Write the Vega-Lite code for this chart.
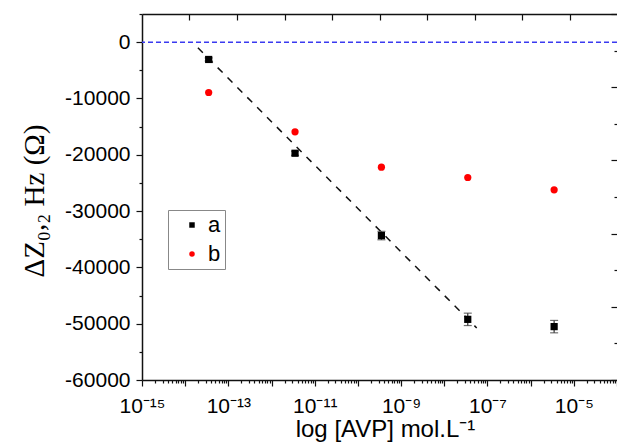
{
  "$schema": "https://vega.github.io/schema/vega-lite/v6.json",
  "width": 475,
  "height": 366,
  "autosize": {"type": "none"},
  "padding": {"left": 142, "top": 14, "right": 0, "bottom": 63},
  "background": "white",
  "config": {
    "view": {"stroke": null},
    "font": "Liberation Sans",
    "axis": {"grid": false, "domainColor": "#111", "domainWidth": 1.5, "tickColor": "#111", "tickWidth": 1.2, "labelColor": "#000", "titleColor": "#000", "labelFlush": false, "labelOverlap": false, "labelBound": false}
  },
  "datasets": {
    "pts": [
      {"series": "a", "x": 3.5e-14, "y": -3075, "lo": -3350, "hi": -2800},
      {"series": "a", "x": 3.5e-12, "y": -19730, "lo": -20100, "hi": -19360},
      {"series": "a", "x": 3.5e-10, "y": -34350, "lo": -35100, "hi": -33600},
      {"series": "a", "x": 3.5e-8, "y": -49230, "lo": -50330, "hi": -48130},
      {"series": "a", "x": 3.5e-6, "y": -50520, "lo": -51620, "hi": -49420},
      {"series": "b", "x": 3.5e-14, "y": -8940, "lo": null, "hi": null},
      {"series": "b", "x": 3.5e-12, "y": -15920, "lo": null, "hi": null},
      {"series": "b", "x": 3.5e-10, "y": -22210, "lo": null, "hi": null},
      {"series": "b", "x": 3.5e-8, "y": -24040, "lo": null, "hi": null},
      {"series": "b", "x": 3.5e-6, "y": -26230, "lo": null, "hi": null}
    ],
    "fit": [
      {"x": 1.97e-14, "y": -995},
      {"x": 5.64e-8, "y": -50755}
    ],
    "ref": [{"y": 0}]
  },
  "layer": [
    {
      "data": {"name": "ref"},
      "mark": {"type": "rule", "color": "#3a3af0", "strokeDash": [5, 3], "strokeWidth": 1.5},
      "encoding": {
        "y": {"field": "y", "type": "quantitative", "scale": {"domain": [-60000, 5000], "nice": false, "zero": false}, "axis": null}
      }
    },
    {
      "data": {"name": "fit"},
      "mark": {"type": "line", "color": "#111", "strokeDash": [7, 7], "strokeWidth": 1.5},
      "encoding": {
        "x": {"field": "x", "type": "quantitative", "scale": {"type": "log", "domain": [1e-15, 1e-4], "nice": false},
          "axis": {"orient": "top", "values": [1.2589e-14, 1.5849e-13, 1.9953e-12, 2.5119e-11, 3.1623e-10, 3.9811e-9, 5.0119e-8, 6.3096e-7, 7.9433e-6], "tickSize": -6, "labels": false, "title": null, "domain": true}},
        "y": {"field": "y", "type": "quantitative", "scale": {"domain": [-60000, 5000], "nice": false, "zero": false},
          "axis": {"orient": "right", "values": [5000, -1500, -8000, -14500, -21000, -27500, -34000, -40500, -47000, -53500, -60000], "tickSize": {"condition": {"test": "indexof([5000,-8000,-21000,-34000,-47000,-60000], datum.value) >= 0", "value": -6}, "value": -3}, "labels": false, "title": null, "domain": false}}
      }
    },
    {
      "data": {"name": "pts"},
      "transform": [{"filter": "datum.lo != null"}],
      "mark": {"type": "rule", "color": "#333", "strokeWidth": 1.2},
      "encoding": {
        "x": {"field": "x", "type": "quantitative", "scale": {"type": "log", "domain": [1e-15, 1e-4], "nice": false}, "axis": null},
        "y": {"field": "lo", "type": "quantitative", "scale": {"domain": [-60000, 5000], "nice": false, "zero": false}, "axis": null},
        "y2": {"field": "hi"}
      }
    },
    {
      "data": {"name": "pts"},
      "transform": [{"filter": "datum.lo != null"}],
      "mark": {"type": "tick", "orient": "horizontal", "color": "#333", "size": 8, "thickness": 1.2},
      "encoding": {
        "x": {"field": "x", "type": "quantitative", "scale": {"type": "log", "domain": [1e-15, 1e-4], "nice": false}, "axis": null},
        "y": {"field": "lo", "type": "quantitative", "scale": {"domain": [-60000, 5000], "nice": false, "zero": false}, "axis": null}
      }
    },
    {
      "data": {"name": "pts"},
      "transform": [{"filter": "datum.hi != null"}],
      "mark": {"type": "tick", "orient": "horizontal", "color": "#333", "size": 8, "thickness": 1.2},
      "encoding": {
        "x": {"field": "x", "type": "quantitative", "scale": {"type": "log", "domain": [1e-15, 1e-4], "nice": false}, "axis": null},
        "y": {"field": "hi", "type": "quantitative", "scale": {"domain": [-60000, 5000], "nice": false, "zero": false}, "axis": null}
      }
    },
    {
      "data": {"name": "pts"},
      "mark": {"type": "point", "filled": true, "opacity": 1, "size": 52},
      "encoding": {
        "x": {"field": "x", "type": "quantitative", "scale": {"type": "log", "domain": [1e-15, 1e-4], "nice": false},
          "axis": {
            "orient": "bottom",
            "values": [1e-15,2e-15,3e-15,4e-15,5e-15,6e-15,7e-15,8e-15,9e-15,1e-14,2e-14,3e-14,4e-14,5e-14,6e-14,7e-14,8e-14,9e-14,1e-13,2e-13,3e-13,4e-13,5e-13,6e-13,7e-13,8e-13,9e-13,1e-12,2e-12,3e-12,4e-12,5e-12,6e-12,7e-12,8e-12,9e-12,1e-11,2e-11,3e-11,4e-11,5e-11,6e-11,7e-11,8e-11,9e-11,1e-10,2e-10,3e-10,4e-10,5e-10,6e-10,7e-10,8e-10,9e-10,1e-9,2e-9,3e-9,4e-9,5e-9,6e-9,7e-9,8e-9,9e-9,1e-8,2e-8,3e-8,4e-8,5e-8,6e-8,7e-8,8e-8,9e-8,1e-7,2e-7,3e-7,4e-7,5e-7,6e-7,7e-7,8e-7,9e-7,1e-6,2e-6,3e-6,4e-6,5e-6,6e-6,7e-6,8e-6,9e-6,1e-5,2e-5,3e-5,4e-5,5e-5,6e-5,7e-5,8e-5,9e-5,1e-4],
            "tickSize": {"condition": {"test": "indexof([1e-15,1e-14,1e-13,1e-12,1e-11,1e-10,1e-9,1e-8,1e-7,1e-6,1e-5,1e-4], datum.value) >= 0", "value": 6}, "value": 3},
            "labelExpr": "['10⁻¹⁵','10⁻¹³','10⁻¹¹','10⁻⁹','10⁻⁷','10⁻⁵'][indexof([1e-15,1e-13,1e-11,1e-9,1e-7,1e-5], datum.value)] || ''",
            "labelFontSize": 21,
            "labelPadding": 9,
            "labelBaseline": "top",
            "title": "log [AVP] mol.L⁻¹",
            "titleFontSize": 24,
            "titleFontWeight": "normal",
            "titleX": 243,
            "titleY": 56,
            "titleAlign": "center",
            "titleBaseline": "alphabetic"
          }},
        "y": {"field": "y", "type": "quantitative", "scale": {"domain": [-60000, 5000], "nice": false, "zero": false},
          "axis": {
            "orient": "left",
            "values": [5000, 0, -5000, -10000, -15000, -20000, -25000, -30000, -35000, -40000, -45000, -50000, -55000, -60000],
            "tickSize": {"condition": {"test": "datum.value % 10000 == 0", "value": 6}, "value": 3},
            "labelExpr": "(datum.value % 10000 == 0 && datum.value <= 0) ? ((datum.value < 0 ? '-' : '') + format(abs(datum.value), 'd')) : ''",
            "labelFontSize": 21,
            "labelPadding": 6,
            "title": "ΔZ₀,₂ Hz (Ω)",
            "titleFont": "Liberation Serif",
            "titleFontSize": 29,
            "titleFontWeight": "normal",
            "titleAngle": -90,
            "titleAlign": "left",
            "titleBaseline": "alphabetic",
            "titleX": -99,
            "titleY": 263
          }},
        "color": {"field": "series", "type": "nominal", "scale": {"domain": ["a", "b"], "range": ["#000000", "#ff0000"]},
          "legend": {"orient": "none", "legendX": 26, "legendY": 196, "title": null, "strokeColor": "#888", "fillColor": "white", "padding": 4, "symbolOffset": 9, "labelOffset": 5, "labelFontSize": 22, "symbolSize": 30, "rowPadding": 7}},
        "shape": {"field": "series", "type": "nominal", "scale": {"domain": ["a", "b"], "range": ["square", "circle"]}}
      }
    }
  ],
  "resolve": {"axis": {"x": "independent", "y": "independent"}}
}
